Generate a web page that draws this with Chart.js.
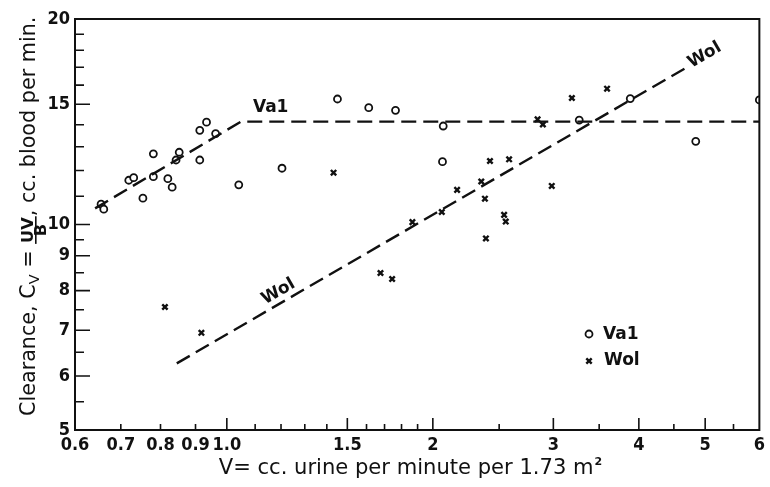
<!DOCTYPE html>
<html>
<head>
<meta charset="utf-8">
<script src="https://cdn.jsdelivr.net/npm/chart.js@4.4.0/dist/chart.umd.min.js"></script>
<style>
  html, body { margin: 0; padding: 0; background: #fff; }
  #chart { display: block; }
</style>
</head>
<body>
<canvas id="chart" width="770" height="487"></canvas>
<script>
// Clearance vs urine flow, log-log.
const va1V = [0.655, 0.661, 0.719, 0.731, 0.754, 0.781, 0.781, 0.820, 0.832, 0.843, 0.852, 0.913, 0.934,
              0.913, 0.963, 1.041, 1.204, 1.451, 1.612, 1.764, 2.071, 2.066, 3.273, 3.886, 4.844, 6.0];
const va1C = [10.71, 10.53, 11.61, 11.71, 10.93, 12.69, 11.75, 11.67, 11.34, 12.43, 12.76, 13.74, 14.12,
              12.43, 13.59, 11.43, 12.09, 15.27, 14.83, 14.70, 13.94, 12.36, 14.22, 15.29, 13.24, 15.22];

const wolV = [0.812, 0.918, 1.432, 1.677, 1.744, 1.867, 2.061, 2.170, 2.354, 2.383, 2.391, 2.424, 2.542,
              2.556, 2.585, 2.845, 2.896, 2.984, 3.193, 3.594];
const wolC = [7.57, 6.94, 11.91, 8.49, 8.32, 10.08, 10.43, 11.24, 11.56, 10.91, 9.54, 12.39, 10.33,
              10.10, 12.46, 14.26, 14.01, 11.39, 15.32, 15.81];

// hand-drawn dashed lines
const va1FitV = [0.642, 1.049, 6.0];
const va1FitC = [10.56, 14.15, 14.15];
const wolFitV = [0.845, 4.685];
const wolFitC = [6.26, 16.96];

// axes
const xLabelTicks = [0.6, 0.7, 0.8, 0.9, 1, 1.5, 2, 3, 4, 5, 6];
const xLabelText = ['0.6', '0.7', '0.8', '0.9', '1.0', '1.5', '2', '3', '4', '5', '6'];
const xLongTicks = [1, 1.5, 2, 3, 4, 5];
const xShortTicks = [0.7, 0.8, 0.9, 1.1, 1.2, 1.3, 1.4, 1.6, 1.7, 1.8, 1.9, 2.5, 3.5, 4.5, 5.5];
const yLabelTicks = [5, 6, 7, 8, 9, 10, 15, 20];
const yLongTicks = [6, 7, 8, 9, 10, 15];
const yShortTicks = [5.5, 6.5, 7.5, 8.5, 9.5, 11, 12, 13, 14, 16, 17, 18, 19];

const ink = '#111';
const sans = '"DejaVu Sans", "Liberation Sans", sans-serif';
const tickFont = { family: '"DejaVu Sans Condensed", "DejaVu Sans", sans-serif', size: 18, weight: 'bold' };

function toPoints(xs, ys) {
    return xs.map((v, i) => ({ x: v, y: ys[i] }));
}

// open circle / x marks for the legend
function drawMark(ctx, style, px, py) {
    ctx.save();
    ctx.strokeStyle = ink;
    ctx.fillStyle = '#fff';
    if (style === 'circle') {
        ctx.lineWidth = 1.8;
        ctx.beginPath();
        ctx.arc(px, py, 3.5, 0, Math.PI * 2);
        ctx.fill();
        ctx.stroke();
    } else {
        ctx.lineWidth = 2.4;
        const r = 3.8 * Math.SQRT1_2;
        ctx.beginPath();
        ctx.moveTo(px - r, py - r); ctx.lineTo(px + r, py + r);
        ctx.moveTo(px + r, py - r); ctx.lineTo(px - r, py + r);
        ctx.stroke();
    }
    ctx.restore();
}

function drawYTitle(ctx) {
    // laid out along the text direction, then rotated
    const layout = (s, draw) => {
        const main = s + 'px ' + sans;
        const small = (s * 0.7) + 'px ' + sans;
        const frac = 'bold ' + (s * 0.78) + 'px ' + sans;
        let cx = 0;
        ctx.font = main;
        if (draw) ctx.fillText('Clearance, C', cx, 0);
        cx += ctx.measureText('Clearance, C').width;
        ctx.font = small;
        if (draw) ctx.fillText('V', cx, 4);
        cx += ctx.measureText('V').width;
        ctx.font = main;
        if (draw) ctx.fillText(' = ', cx, 0);
        cx += ctx.measureText(' = ').width;
        ctx.font = frac;
        const nw = ctx.measureText('UV').width;
        const dw = ctx.measureText('B').width;
        const fw = Math.max(nw, dw) + 2;
        if (draw) {
            ctx.fillText('UV', cx + (fw - nw) / 2, -2);
            ctx.fillRect(cx, 0, fw, 1.6);
            ctx.fillText('B', cx + (fw - dw) / 2, 11);
        }
        cx += fw;
        ctx.font = main;
        if (draw) ctx.fillText(', cc. blood per min.', cx, 0);
        cx += ctx.measureText(', cc. blood per min.').width;
        return cx;
    };
    ctx.save();
    ctx.fillStyle = ink;
    ctx.textAlign = 'left';
    ctx.textBaseline = 'alphabetic';
    const w17 = layout(17, false);
    const s = 17 * 400 / w17;
    ctx.translate(35, 416);
    ctx.rotate(-Math.PI / 2);
    layout(s, true);
    ctx.restore();
}

function drawXTitle(ctx) {
    ctx.save();
    ctx.fillStyle = ink;
    ctx.textBaseline = 'alphabetic';
    ctx.textAlign = 'left';
    const text = 'V= cc. urine per minute per 1.73 m';
    ctx.font = '17px ' + sans;
    const size = 17 * 375 / ctx.measureText(text).width;
    ctx.font = size + 'px ' + sans;
    const w = ctx.measureText(text).width;
    ctx.font = 'bold 11px ' + sans;
    const ws = ctx.measureText('2').width;
    const x0 = 410 - (w + ws) / 2;
    ctx.font = size + 'px ' + sans;
    ctx.fillText(text, x0, 474);
    ctx.font = 'bold 11px ' + sans;
    ctx.fillText('2', x0 + w + 1, 465);
    ctx.restore();
}

const decorPlugin = {
    id: 'decor',
    afterDatasetsDraw(chart) {
        const { ctx, chartArea: a, scales: { x, y } } = chart;
        ctx.save();
        ctx.strokeStyle = ink;

        // frame
        ctx.lineWidth = 2;
        ctx.strokeRect(a.left, a.top, a.right - a.left, a.bottom - a.top);

        // inward tick marks
        ctx.lineWidth = 1.6;
        ctx.beginPath();
        xLongTicks.forEach(v => { const p = x.getPixelForValue(v); ctx.moveTo(p, a.bottom); ctx.lineTo(p, a.bottom - 12); });
        xShortTicks.forEach(v => { const p = x.getPixelForValue(v); ctx.moveTo(p, a.bottom); ctx.lineTo(p, a.bottom - 6); });
        yLongTicks.forEach(v => { const p = y.getPixelForValue(v); ctx.moveTo(a.left, p); ctx.lineTo(a.left + 15, p); });
        yShortTicks.forEach(v => { const p = y.getPixelForValue(v); ctx.moveTo(a.left, p); ctx.lineTo(a.left + 9, p); });
        ctx.stroke();

        // line labels
        ctx.fillStyle = ink;
        ctx.font = 'bold 17px ' + sans;
        ctx.textAlign = 'center';
        ctx.textBaseline = 'middle';
        const x0 = x.getPixelForValue(wolFitV[0]), y0 = y.getPixelForValue(wolFitC[0]);
        const x1 = x.getPixelForValue(wolFitV[1]), y1 = y.getPixelForValue(wolFitC[1]);
        const ang = Math.atan2(y1 - y0, x1 - x0);
        ctx.fillText('Va1', x.getPixelForValue(1.159), y.getPixelForValue(14.82));
        [[1.19, 7.97], [4.99, 17.7]].forEach(([v, c]) => {
            ctx.save();
            ctx.translate(x.getPixelForValue(v), y.getPixelForValue(c));
            ctx.rotate(ang);
            ctx.fillText('Wol', 0, 0);
            ctx.restore();
        });

        // legend
        ctx.textAlign = 'left';
        drawMark(ctx, 'circle', 589, 334);
        ctx.fillText('Va1', 603, 335);
        drawMark(ctx, 'cross', 589, 361);
        ctx.fillText('Wol', 604, 361);

        ctx.restore();

        drawYTitle(ctx);
        drawXTitle(ctx);
    }
};

const lineStyle = {
    showLine: true,
    borderColor: ink,
    borderWidth: 2.4,
    borderDash: [15, 7],
    pointRadius: 0,
    fill: false,
    tension: 0
};

new Chart(document.getElementById('chart'), {
    type: 'scatter',
    data: {
        datasets: [
            { label: 'Va1 line', data: toPoints(va1FitV, va1FitC), ...lineStyle },
            { label: 'Wol line', data: toPoints(wolFitV, wolFitC), ...lineStyle },
            {
                label: 'Va1',
                data: toPoints(va1V, va1C),
                pointStyle: 'circle',
                pointRadius: 3.5,
                pointBorderWidth: 1.8,
                borderColor: ink,
                pointBorderColor: ink,
                backgroundColor: '#fff',
                pointBackgroundColor: '#fff'
            },
            {
                label: 'Wol',
                data: toPoints(wolV, wolC),
                pointStyle: 'crossRot',
                pointRadius: 3.8,
                pointBorderWidth: 2.4,
                borderColor: ink,
                pointBorderColor: ink
            }
        ]
    },
    options: {
        responsive: false,
        animation: false,
        devicePixelRatio: 1,
        events: [],
        layout: { padding: { top: 19, right: 5, left: 0, bottom: 0 } },
        plugins: {
            legend: { display: false },
            tooltip: { enabled: false }
        },
        scales: {
            x: {
                type: 'logarithmic',
                min: 0.6,
                max: 6,
                grid: { display: false, drawTicks: false },
                border: { display: false },
                afterBuildTicks: s => { s.ticks = xLabelTicks.map(v => ({ value: v })); },
                afterFit: s => { s.height = 57; },
                ticks: {
                    autoSkip: false,
                    maxRotation: 0,
                    padding: 5,
                    color: ink,
                    font: tickFont,
                    callback: (v, i) => xLabelText[i]
                }
            },
            y: {
                type: 'logarithmic',
                min: 5,
                max: 20,
                grid: { display: false, drawTicks: false },
                border: { display: false },
                afterBuildTicks: s => { s.ticks = yLabelTicks.map(v => ({ value: v })); },
                afterFit: s => { s.width = 75; },
                ticks: {
                    autoSkip: false,
                    padding: 5,
                    color: ink,
                    font: tickFont,
                    callback: (v, i) => String(yLabelTicks[i])
                }
            }
        }
    },
    plugins: [decorPlugin]
});
</script>
</body>
</html>
